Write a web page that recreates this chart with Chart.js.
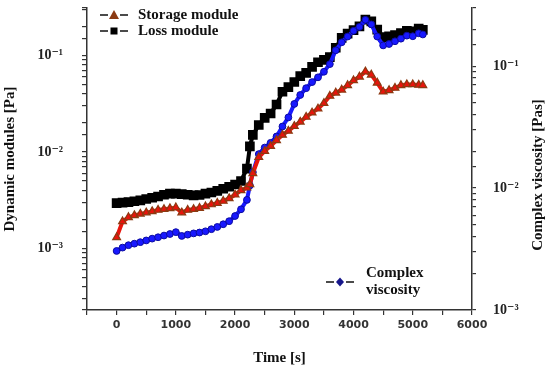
<!DOCTYPE html>
<html>
<head>
<meta charset="utf-8">
<script src="https://cdn.jsdelivr.net/npm/chart.js@4.4.1/dist/chart.umd.min.js"></script>
<style>
  html, body { margin: 0; padding: 0; background: #fff; }
  canvas { display: block; }
</style>
</head>
<body>
<canvas id="rheo" width="550" height="368"></canvas>
<script>
// time points [s]
const timeS = [0, 100, 200, 300, 400, 500, 600, 700, 800, 900, 1000, 1100, 1200, 1300, 1400,
  1500, 1600, 1700, 1800, 1900, 2000, 2100, 2200, 2250, 2300, 2400, 2500, 2600, 2700, 2800,
  2900, 3000, 3100, 3200, 3300, 3400, 3500, 3600, 3700, 3800, 3900, 4000, 4100, 4200, 4300,
  4400, 4500, 4600, 4700, 4800, 4900, 5000, 5100, 5170];

// G' [Pa]
const storageModule = [1.3e-3, 1.9e-3, 2.1e-3, 2.2e-3, 2.28e-3, 2.35e-3, 2.42e-3, 2.5e-3, 2.55e-3,
  2.6e-3, 2.65e-3, 2.35e-3, 2.5e-3, 2.55e-3, 2.62e-3, 2.72e-3, 2.85e-3, 2.95e-3, 3.1e-3, 3.3e-3,
  3.6e-3, 4.0e-3, 4.25e-3, 4.6e-3, 6.0e-3, 8.8e-3, 1.02e-2, 1.15e-2, 1.32e-2, 1.5e-2, 1.65e-2,
  1.85e-2, 2.05e-2, 2.3e-2, 2.55e-2, 2.8e-2, 3.2e-2, 3.8e-2, 4.1e-2, 4.4e-2, 4.9e-2, 5.5e-2,
  6.0e-2, 6.8e-2, 6.3e-2, 5.2e-2, 4.2e-2, 4.35e-2, 4.6e-2, 4.9e-2, 5.0e-2, 5.0e-2, 4.95e-2, 4.9e-2];

// G'' [Pa]
const lossModule = [2.95e-3, 2.98e-3, 3.02e-3, 3.08e-3, 3.15e-3, 3.25e-3, 3.35e-3, 3.45e-3, 3.6e-3,
  3.7e-3, 3.7e-3, 3.65e-3, 3.6e-3, 3.55e-3, 3.58e-3, 3.7e-3, 3.8e-3, 3.95e-3, 4.15e-3, 4.35e-3,
  4.6e-3, 5.0e-3, 6.7e-3, 1.14e-2, 1.5e-2, 1.9e-2, 2.25e-2, 2.5e-2, 3.1e-2, 4.2e-2, 4.7e-2,
  5.3e-2, 6.1e-2, 6.6e-2, 7.6e-2, 8.5e-2, 9.0e-2, 9.6e-2, 0.12, 0.152, 0.168, 0.183,
  0.2, 0.235, 0.225, 0.185, 0.155, 0.158, 0.162, 0.17, 0.18, 0.178, 0.19, 0.184];

// eta* [Pa s]
const complexViscosity = [3.05e-3, 3.25e-3, 3.4e-3, 3.5e-3, 3.6e-3, 3.72e-3, 3.85e-3, 3.95e-3, 4.08e-3,
  4.2e-3, 4.35e-3, 4.05e-3, 4.15e-3, 4.25e-3, 4.32e-3, 4.42e-3, 4.6e-3, 4.8e-3, 5.05e-3, 5.35e-3,
  5.9e-3, 6.7e-3, 8.0e-3, 1.05e-2, 1.35e-2, 1.9e-2, 2.15e-2, 2.35e-2, 2.65e-2, 3.2e-2, 3.8e-2,
  4.9e-2, 5.8e-2, 6.6e-2, 7.4e-2, 8.1e-2, 9.0e-2, 0.104, 0.135, 0.157, 0.175, 0.195,
  0.21, 0.24, 0.22, 0.175, 0.148, 0.152, 0.16, 0.168, 0.178, 0.176, 0.186, 0.182];

const xTickLabels = [0, 1000, 2000, 3000, 4000, 5000, 6000];

const toPoints = (vals) => vals.map((v, i) => ({ x: timeS[i], y: v }));

const SUP = { "-": "\u207B", "0": "\u2070", "1": "\u00B9", "2": "\u00B2", "3": "\u00B3" };
function powLabel(v) {
  const e = Math.log10(v);
  if (Math.abs(e - Math.round(e)) > 1e-6) return "";
  return "10" + String(Math.round(e)).split("").map((c) => SUP[c] || c).join("");
}

const AXIS = "#333333";
const serifBold = (size) => ({ family: "'Liberation Serif', 'DejaVu Serif', serif", size: size, weight: "bold" });

// fixed box sizes so the plot area lands where it is in the figure
const fixBox = (w, h) => (s) => {
  if (w != null) s.width = w;
  if (h != null) s.height = h;
  s.paddingTop = 0;
  s.paddingBottom = 0;
  s.paddingLeft = 0;
  s.paddingRight = 0;
};

// legend drawn inside the plot like the original figure
const legendPlugin = {
  id: "insideLegend",
  afterDraw(chart) {
    const ctx = chart.ctx;
    ctx.save();
    ctx.lineWidth = 1.5;
    ctx.strokeStyle = "#111";
    const dashes = (cx, cy) => {
      ctx.beginPath();
      ctx.moveTo(cx - 14, cy); ctx.lineTo(cx - 6, cy);
      ctx.moveTo(cx + 6, cy); ctx.lineTo(cx + 14, cy);
      ctx.stroke();
    };
    // storage
    dashes(114, 15);
    ctx.fillStyle = "#8b3a12";
    ctx.beginPath();
    ctx.moveTo(114, 10); ctx.lineTo(119, 19); ctx.lineTo(109, 19); ctx.closePath();
    ctx.fill();
    // loss
    dashes(114, 31);
    ctx.fillStyle = "#000";
    ctx.fillRect(110.5, 27.5, 7, 7);
    // viscosity
    dashes(340, 282);
    ctx.fillStyle = "#16168a";
    ctx.beginPath();
    ctx.moveTo(340, 277.5); ctx.lineTo(344, 282); ctx.lineTo(340, 286.5); ctx.lineTo(336, 282); ctx.closePath();
    ctx.fill();

    ctx.fillStyle = "#111";
    ctx.font = "bold 15px 'Liberation Serif', 'DejaVu Serif', serif";
    ctx.textBaseline = "middle";
    ctx.textAlign = "left";
    ctx.fillText("Storage module", 138, 15);
    ctx.fillText("Loss module", 138, 31);
    ctx.fillText("Complex", 366, 273);
    ctx.fillText("viscosity", 366, 290);

    // right axis title, reading bottom to top
    ctx.translate(538, 175);
    ctx.rotate(-Math.PI / 2);
    ctx.textAlign = "center";
    ctx.fillText("Complex viscosity [Pas]", 0, 0);
    ctx.restore();
  },
};

new Chart(document.getElementById("rheo"), {
  type: "scatter",
  data: {
    datasets: [
      {
        label: "Storage module",
        data: toPoints(storageModule),
        yAxisID: "y",
        showLine: true,
        borderColor: "#e8140c",
        borderWidth: 4,
        pointStyle: "triangle",
        pointRadius: 4.5,
        pointBackgroundColor: "#e8140c",
        pointBorderColor: "#8b3a12",
        pointBorderWidth: 1.2,
        order: 1,
      },
      {
        label: "Complex viscosity",
        data: toPoints(complexViscosity),
        yAxisID: "y2",
        showLine: true,
        borderColor: "#1818ff",
        borderWidth: 4,
        pointStyle: "circle",
        pointRadius: 3.4,
        pointBackgroundColor: "#1818ff",
        pointBorderColor: "#0c0ca0",
        pointBorderWidth: 1,
        order: 2,
      },
      {
        label: "Loss module",
        data: toPoints(lossModule),
        yAxisID: "y",
        showLine: true,
        borderColor: "#000",
        borderWidth: 4,
        pointStyle: "rect",
        pointRadius: 4,
        pointBackgroundColor: "#000",
        pointBorderColor: "#000",
        order: 3,
      },
    ],
  },
  options: {
    responsive: false,
    animation: false,
    devicePixelRatio: 1,
    layout: { padding: { top: 3, right: 0, bottom: 0, left: 0 } },
    plugins: { legend: { display: false }, tooltip: { enabled: false } },
    scales: {
      x: {
        type: "linear",
        min: -500,
        max: 6000,
        afterFit: fixBox(null, 58),
        border: { color: AXIS, width: 1.5 },
        grid: { drawOnChartArea: false, color: AXIS, tickLength: 5, lineWidth: 1.2 },
        ticks: {
          stepSize: 500,
          autoSkip: false,
          maxRotation: 0,
          padding: 4,
          color: "#333",
          font: { family: "'DejaVu Sans', sans-serif", size: 11, weight: "bold" },
          callback: (v) => (xTickLabels.includes(v) ? String(v) : ""),
        },
        title: { display: true, text: "Time [s]", color: "#111", font: serifBold(15), padding: { top: 0, bottom: 1 } },
      },
      y: {
        type: "logarithmic",
        position: "left",
        min: 2.3e-4,
        max: 0.31,
        afterFit: fixBox(87, null),
        border: { color: AXIS, width: 1.5 },
        grid: { drawOnChartArea: false, color: AXIS, tickLength: 5, lineWidth: 1.2 },
        ticks: {
          autoSkip: false,
          padding: 19,
          color: "#222",
          font: serifBold(14),
          callback: (v) => powLabel(v),
        },
        title: { display: true, text: "Dynamic modules [Pa]", color: "#111", font: serifBold(15), padding: { top: 1, bottom: 0 } },
      },
      y2: {
        type: "logarithmic",
        position: "right",
        min: 1e-3,
        max: 0.3,
        afterFit: fixBox(78, null),
        border: { color: AXIS, width: 1.5 },
        grid: { drawOnChartArea: false, color: AXIS, tickLength: 4, lineWidth: 1.2 },
        ticks: {
          autoSkip: false,
          padding: 17,
          color: "#222",
          font: serifBold(14),
          callback: (v) => powLabel(v),
        },
      },
    },
  },
  plugins: [legendPlugin],
});
</script>
</body>
</html>
